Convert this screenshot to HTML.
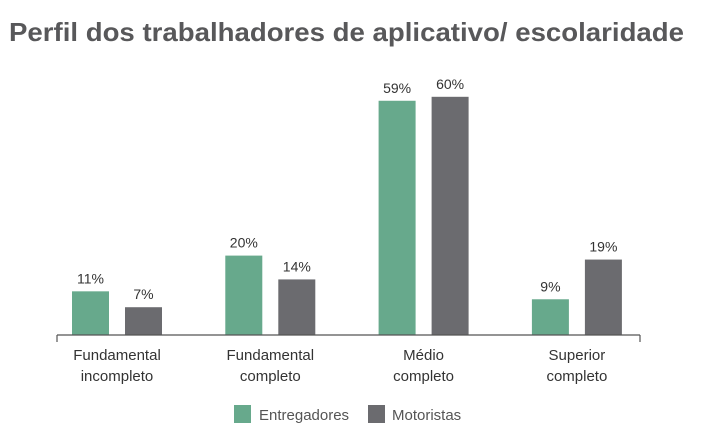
<!DOCTYPE html>
<html><head><meta charset="utf-8"><style>
body{margin:0;background:#fff;}
svg{display:block;font-family:"Liberation Sans",sans-serif;}
</style></head><body>
<svg id="chart" width="701" height="439">
<text x="9" y="41" font-size="26" font-weight="bold" fill="#58585a" textLength="675" lengthAdjust="spacingAndGlyphs">Perfil dos trabalhadores de aplicativo/ escolaridade</text>
<g id="bars"></g>
<line x1="57" y1="335" x2="640" y2="335" stroke="#555" stroke-width="1.2"/>
<line x1="57" y1="335" x2="57" y2="342" stroke="#555" stroke-width="1.2"/>
<line x1="640" y1="335" x2="640" y2="342" stroke="#555" stroke-width="1.2"/>
<g>
<rect x="234" y="405" width="17" height="18" fill="#67a98c"/>
<text x="259" y="420" font-size="15" fill="#555">Entregadores</text>
<rect x="368" y="405" width="17" height="18" fill="#6b6b6f"/>
<text x="392" y="420" font-size="15" fill="#555">Motoristas</text>
</g>
</svg>
<script>
const categories = [["Fundamental","incompleto"],["Fundamental","completo"],["Médio","completo"],["Superior","completo"]];
const entregadores = [11, 20, 59, 9];
const motoristas = [7, 14, 60, 19];
const NS = "http://www.w3.org/2000/svg";
const g = document.getElementById("bars");
const baseY = 335, pxPerPct = 3.97;
const yScale = v => baseY - v * pxPerPct;
const xCenter = i => 117 + i * 153.3;
const bw = 37, gap = 16;
function mk(tag, attrs){const e=document.createElementNS(NS,tag);for(const k in attrs)e.setAttribute(k,attrs[k]);return e;}
function bar(x, v, color, name){
  const r = mk("rect",{x:x,y:yScale(v),width:bw,height:baseY-yScale(v),fill:color});
  
  
  g.appendChild(r);
  const t = mk("text",{x:x+bw/2,y:yScale(v)-8,"text-anchor":"middle","font-size":"14",fill:"#333"});
  t.textContent = v + "%";
  
  
  g.appendChild(t);
}
categories.forEach((c,i)=>{
  const cx = xCenter(i);
  bar(cx - gap/2 - bw, entregadores[i], "#67a98c", "bar-entregadores-" + i);
  bar(cx + gap/2, motoristas[i], "#6b6b6f", "bar-motoristas-" + i);
  c.forEach((line,j)=>{
    const t = mk("text",{x:cx,y:360+j*21,"text-anchor":"middle","font-size":"15",fill:"#333"});
    t.textContent = line;
    
    
    g.appendChild(t);
  });
});
</script>
</body></html>
